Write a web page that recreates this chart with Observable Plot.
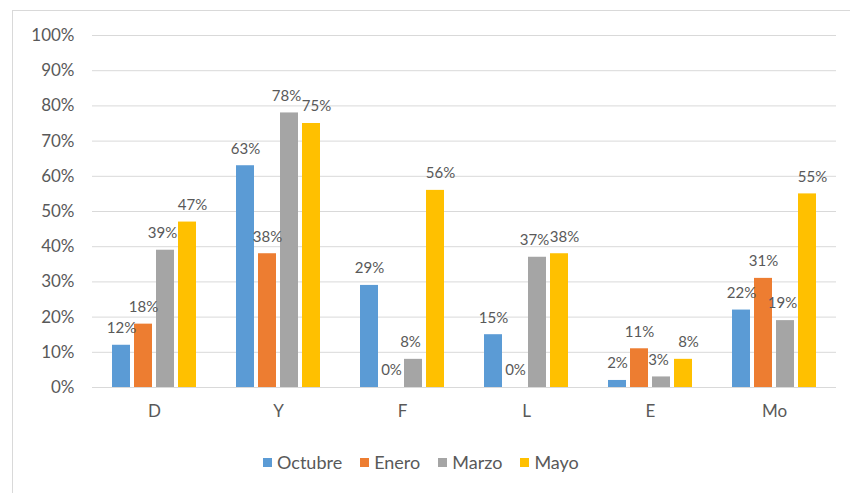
<!DOCTYPE html>
<html><head><meta charset="utf-8">
<script src="https://cdn.jsdelivr.net/npm/d3@7"></script>
<script src="https://cdn.jsdelivr.net/npm/@observablehq/plot@0.6"></script>
<style>
body{margin:0;background:#fff;font-family:Lato,"Open Sans",sans-serif;}
#frame{position:absolute;left:12px;top:10px;width:850px;height:500px;border-top:1px solid #d9d9d9;border-left:1px solid #d9d9d9;overflow:hidden;}
#chart{position:absolute;left:0;top:0;}
#legend{position:absolute;top:440px;left:250px;display:flex;align-items:center;font-size:18px;line-height:22px;color:#595959;white-space:nowrap;}
#legend .item{display:flex;align-items:center;margin-right:18px;}
#legend .sw{width:9px;height:9px;margin-right:5px;}
</style>
</head><body>
<div id="frame"><div id="chart"></div><div id="legend"></div></div>
<script>
const categories = ["D","Y","F","L","E","Mo"];
const series = ["Octubre","Enero","Marzo","Mayo"];
const octubre = [12,63,29,15,2,22];
const enero   = [18,38,0,0,11,31];
const marzo   = [39,78,8,37,3,19];
const mayo    = [47,75,56,38,8,55];
const colors  = ["#5B9BD5","#ED7D31","#A5A5A5","#FFC000"];
const yTicks  = [0,0.1,0.2,0.3,0.4,0.5,0.6,0.7,0.8,0.9,1];

const valuesBySeries = [octubre, enero, marzo, mayo];
const data = [];
categories.forEach((c,i)=>series.forEach((s,j)=>data.push({cat:c, series:s, value:valuesBySeries[j][i]/100})));

const txt = "#595959";
const labelOpts = (filter, dx) => ({fx: "cat", x: "series", y: "value", filter, dx, dy: -17,
  text: d => Math.round(d.value*100) + "%", fontSize: 15, fill: txt});
const chart = Plot.plot({
  width: 837, height: 425,
  marginLeft: 77, marginRight: 13, marginTop: 24, marginBottom: 49,
  style: {fontFamily: "Lato, 'Open Sans', sans-serif", background: "white", color: txt},
  fx: {domain: categories, padding: 0, label: null},
  x: {domain: series, paddingInner: 0.2, paddingOuter: 0.87, axis: null},
  y: {domain: [0,1], label: null},
  color: {domain: series, range: colors},
  marks: [
    Plot.gridY(yTicks, {stroke: "#d9d9d9", strokeOpacity: 1, strokeWidth: 1}),
    Plot.axisY({ticks: yTicks, tickFormat: d => Math.round(d*100) + "%", tickSize: 0, tickPadding: 18, fontSize: 17, fill: txt, label: null}),
    Plot.axisFx({anchor: "bottom", tickSize: 0, tickPadding: 17, fontSize: 17, fill: txt, label: null}),
    Plot.barY(data, {fx: "cat", x: "series", y: "value", fill: "series"}),
    Plot.text(data, labelOpts(d => d.series === "Octubre" || d.series === "Enero", 0)),
    Plot.text(data, labelOpts(d => d.series === "Marzo", -3)),
    Plot.text(data, labelOpts(d => d.series === "Mayo", 5))
  ]
});
document.getElementById("chart").appendChild(chart);

const lg = document.getElementById("legend");
series.forEach((s,j)=>{
  const it = document.createElement("div"); it.className = "item";
  const sw = document.createElement("div"); sw.className = "sw"; sw.style.background = colors[j];
  const t = document.createElement("span"); t.textContent = s;
  it.appendChild(sw); it.appendChild(t); lg.appendChild(it);
});
</script>
</body></html>
